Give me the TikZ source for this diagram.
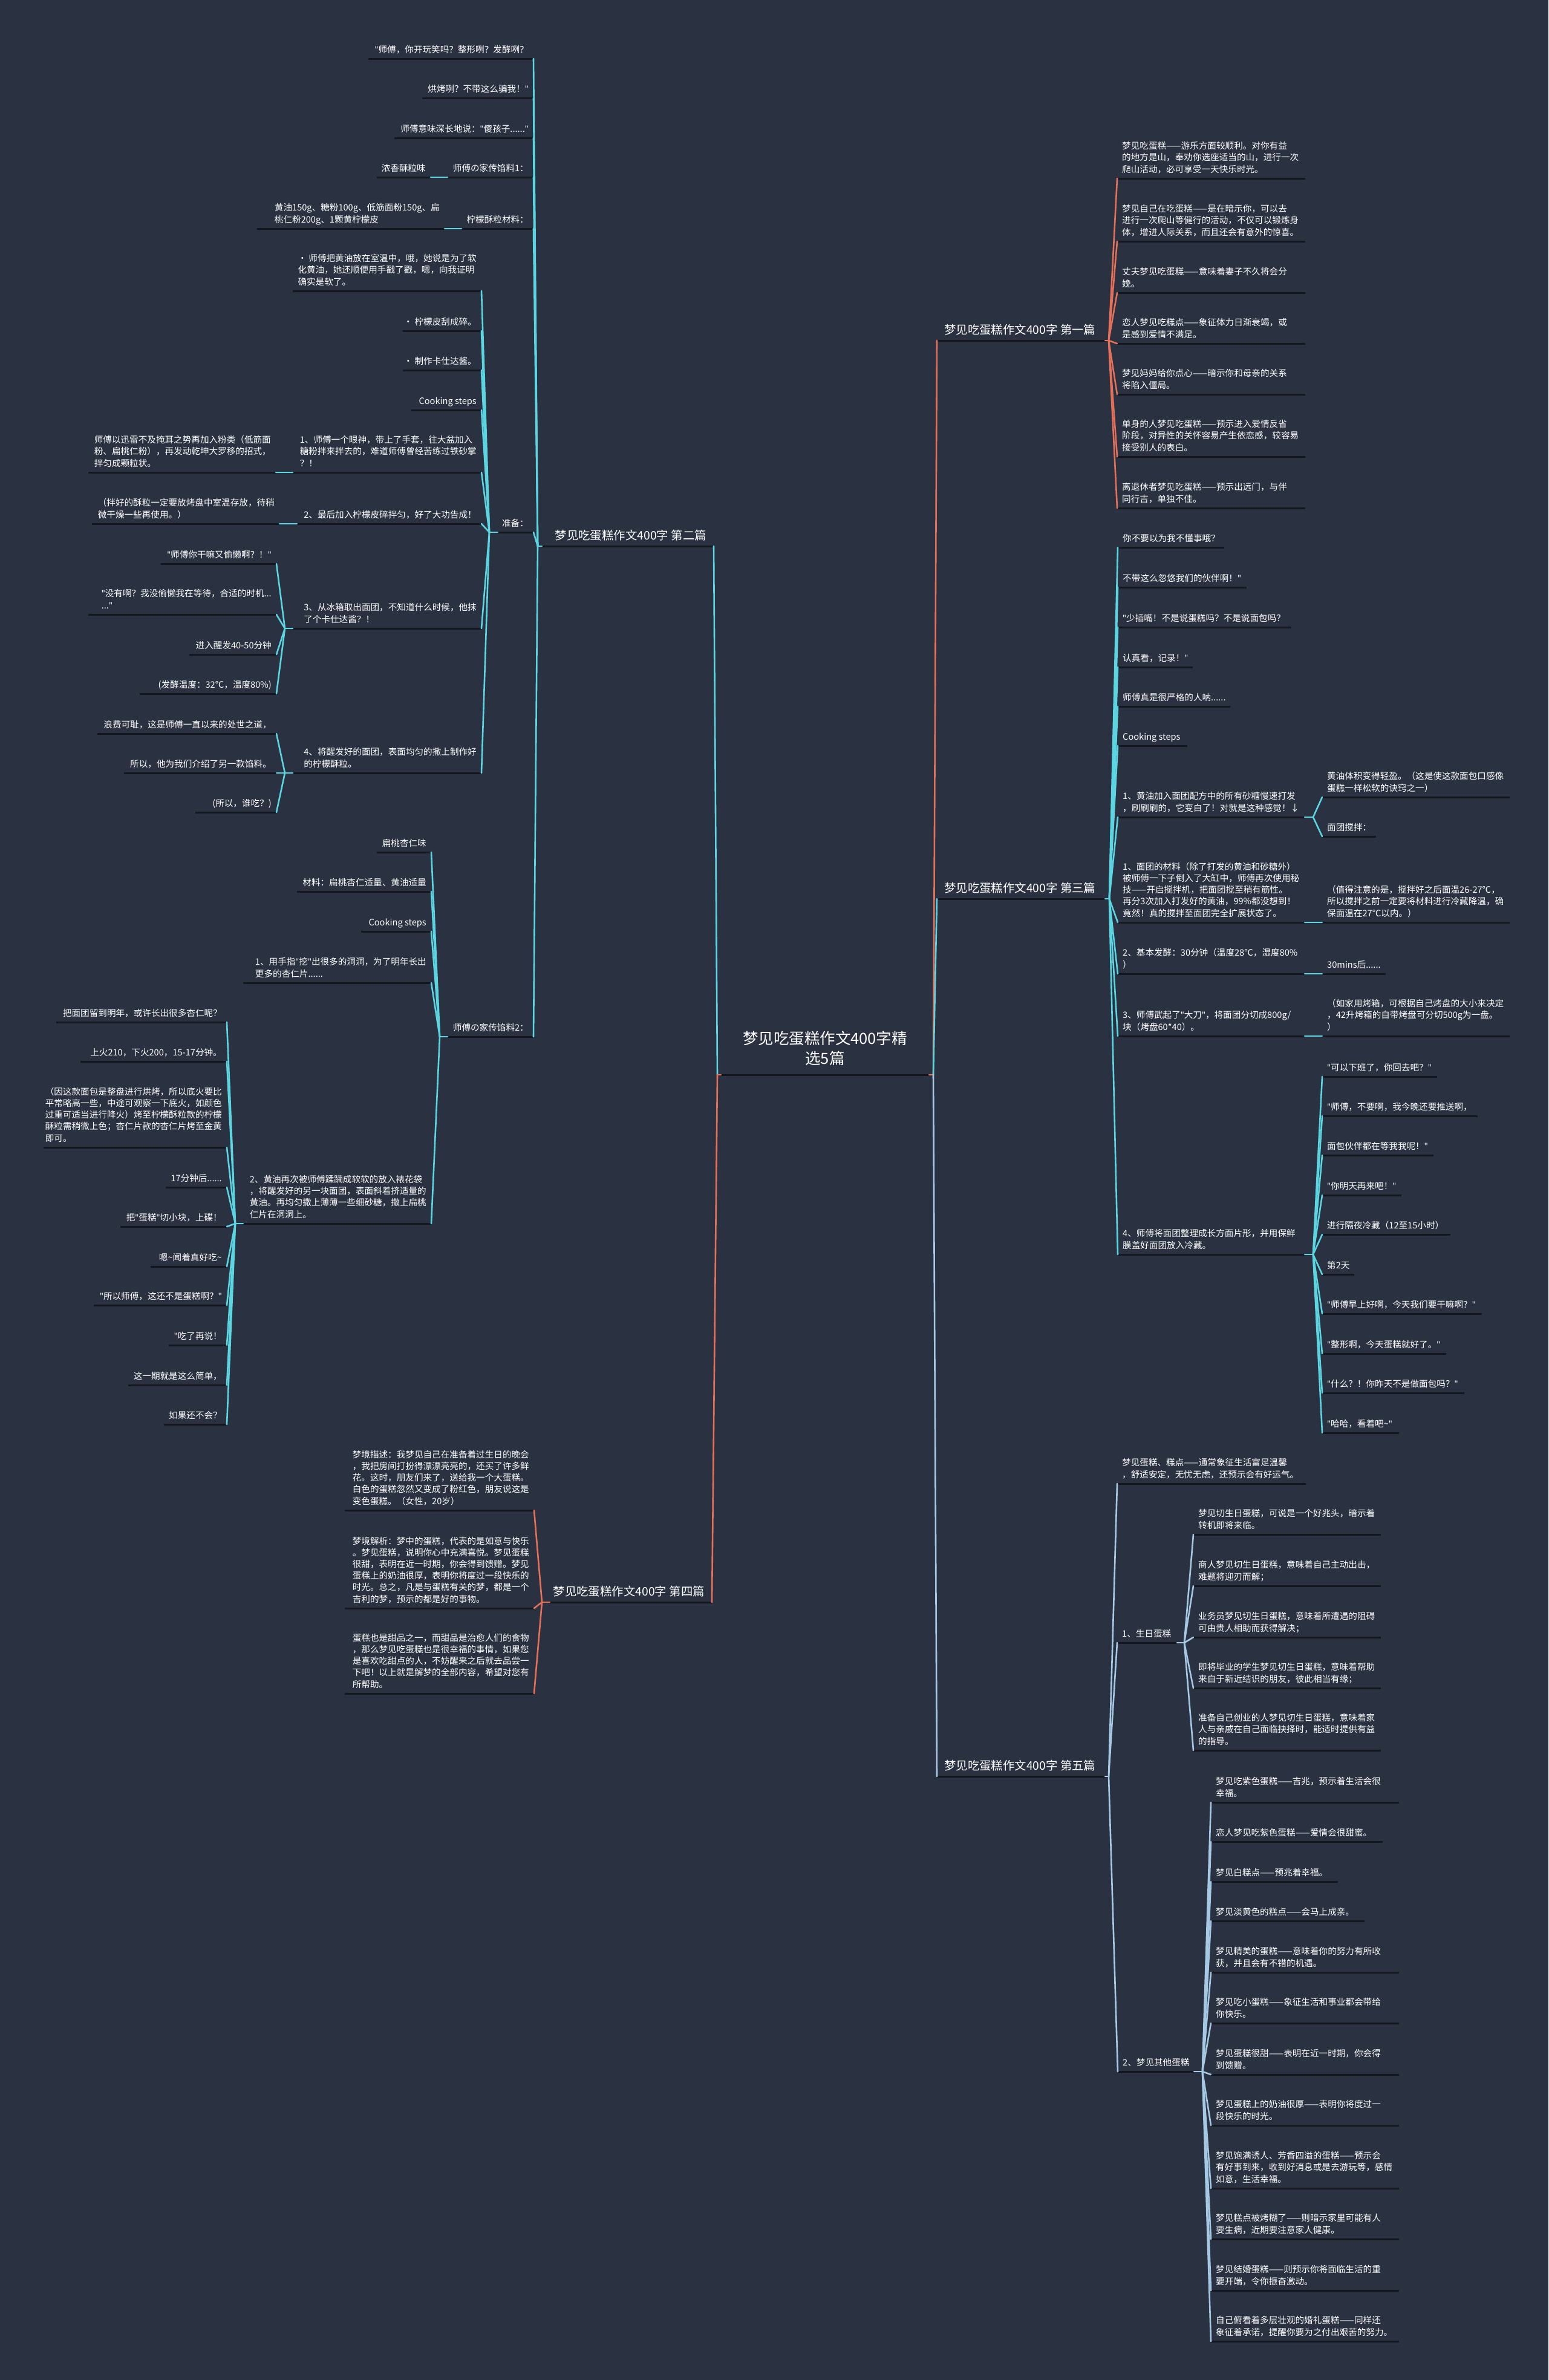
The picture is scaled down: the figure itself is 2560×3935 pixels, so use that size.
\documentclass[tikz,border=0pt]{standalone}
\usepackage{fontspec}
\setmainfont{Noto Sans CJK SC}
\newfontfamily\qfont{Noto Sans}
\newcommand\Q{{\qfont"}}
\definecolor{bgc}{HTML}{2A3242}
\definecolor{cyc}{HTML}{5CD5E3}
\definecolor{orc}{HTML}{E5705A}
\definecolor{blc}{HTML}{A5C9E5}
\definecolor{ulc}{HTML}{14171D}
\tikzset{
  lf/.style={inner sep=0pt, text=white, font=\fontsize{14.6}{19.2}\selectfont},
  brf/.style={inner sep=0pt, text=white, font=\fontsize{19.4}{24}\selectfont},
  rootf/.style={inner sep=0pt, text=white, font=\fontsize{25.5}{33}\selectfont},
  ul/.style={draw=ulc, line width=3pt},
  cyl/.style={draw=cyc, line width=2.6pt, line cap=round},
  orl/.style={draw=orc, line width=2.6pt, line cap=round},
  bll/.style={draw=blc, line width=2.6pt, line cap=round}
}
% left leaf: name, x1, x2, y(underline), text
\newcommand\Ln[5]{%
  \node[lf, anchor=base east] (#1) at (#3-8,#4-10) {\begin{tabular}[b]{@{}l@{}}#5\end{tabular}};
  \coordinate (#1-l) at (#2,#4);
  \coordinate (#1-r) at (#3,#4);
  \draw[ul] (#1-l) -- (#1-r);
}
% right leaf
\newcommand\Rn[5]{%
  \node[lf, anchor=base west] (#1) at (#2+8,#4-10) {\begin{tabular}[b]{@{}l@{}}#5\end{tabular}};
  \coordinate (#1-l) at (#2,#4);
  \coordinate (#1-r) at (#3,#4);
  \draw[ul] (#1-l) -- (#1-r);
}
% branch nodes
\newcommand\Bl[5]{%
  \node[brf, anchor=base east] (#1) at (#3-12,#4-11) {#5};
  \coordinate (#1-l) at (#2,#4);
  \coordinate (#1-r) at (#3,#4);
  \draw[ul] (#1-l) -- (#1-r);
}
\newcommand\Br[5]{%
  \node[brf, anchor=base west] (#1) at (#2+12,#4-11) {#5};
  \coordinate (#1-l) at (#2,#4);
  \coordinate (#1-r) at (#3,#4);
  \draw[ul] (#1-l) -- (#1-r);
}
\begin{document}
\begin{tikzpicture}[x=1pt,y=-1pt]
\fill[bgc] (0,0) rectangle (2560,3935);
\useasboundingbox (0,0) rectangle (2560,3935);

% ---------- root ----------
\node[rootf, anchor=base] (R) at (1364,1759) {\begin{tabular}[b]{@{}c@{}}梦见吃蛋糕作文400字精\\选5篇\end{tabular}};
\coordinate (R-l) at (1192,1777);
\coordinate (R-r) at (1536,1777);
\draw[ul] (R-l) -- (R-r);

% ---------- main branches ----------
\Bl{B2}{896}{1180}{903}{梦见吃蛋糕作文400字 第二篇}
\Bl{B4}{909}{1177}{2649}{梦见吃蛋糕作文400字 第四篇}
\Br{B1}{1549}{1827}{563}{梦见吃蛋糕作文400字 第一篇}
\Br{B3}{1549}{1827}{1486}{梦见吃蛋糕作文400字 第三篇}
\Br{B5}{1549}{1827}{2937}{梦见吃蛋糕作文400字 第五篇}

% ---------- 第二篇 ----------
\Ln{a1}{609}{882}{97}{\Q 师傅，你开玩笑吗？整形咧？发酵咧？}
\Ln{a2}{698}{882}{162}{烘烤咧？不带这么骗我！\Q}
\Ln{a3}{652}{882}{228}{师傅意味深长地说：\Q 傻孩子......\Q}
\Ln{a4}{740}{882}{293}{师傅の家传馅料1：}
\Ln{a4c}{623}{712}{293}{浓香酥粒味}
\Ln{a5}{763}{882}{378}{柠檬酥粒材料：}
\Ln{a5c}{425}{735}{378}{黄油150g、糖粉100g、低筋面粉150g、扁\\桃仁粉200g、1颗黄柠檬皮}
\Ln{a6}{823}{882}{880}{准备：}
\Ln{a7}{740}{882}{1714}{师傅の家传馅料2：}

\Ln{p1}{484}{796}{481}{• 师傅把黄油放在室温中，哦，她说是为了软\\化黄油，她还顺便用手戳了戳，嗯，向我证明\\确实是软了。}
\Ln{p2}{666}{796}{547}{• 柠檬皮刮成碎。}
\Ln{p3}{666}{796}{612}{• 制作卡仕达酱。}
\Ln{p4}{680}{796}{678}{Cooking steps}
\Ln{p5}{484}{796}{781}{1、师傅一个眼神，带上了手套，往大盆加入\\糖粉拌来拌去的，难道师傅曾经苦练过铁砂掌\\？！}
\Ln{p5c}{146}{456}{781}{师傅以迅雷不及掩耳之势再加入粉类（低筋面\\粉、扁桃仁粉），再发动乾坤大罗移的招式，\\拌匀成颗粒状。}
\Ln{p6}{491}{796}{866}{2、最后加入柠檬皮碎拌匀，好了大功告成！}
\Ln{p6c}{152}{462}{866}{（拌好的酥粒一定要放烤盘中室温存放，待稍\\微干燥一些再使用。）}
\Ln{p7}{484}{796}{1039}{3、从冰箱取出面团，不知道什么时候，他抹\\了个卡仕达酱？！}
\Ln{p7a}{266}{457}{932}{\Q 师傅你干嘛又偷懒啊？！\Q}
\Ln{p7b}{146}{457}{1016}{\Q 没有啊？我没偷懒我在等待，合适的时机...\\...\Q}
\Ln{p7c}{313}{457}{1082}{进入醒发40-50分钟}
\Ln{p7d}{231}{457}{1147}{(发酵温度：32℃，温度80\%)}
\Ln{p8}{484}{796}{1278}{4、将醒发好的面团，表面均匀的撒上制作好\\的柠檬酥粒。}
\Ln{p8a}{161}{457}{1213}{浪费可耻，这是师傅一直以来的处世之道，}
\Ln{p8b}{205}{457}{1278}{所以，他为我们介绍了另一款馅料。}
\Ln{p8c}{323}{457}{1343}{(所以，谁吃？)}

\Ln{q1}{623}{713}{1409}{扁桃杏仁味}
\Ln{q2}{491}{713}{1474}{材料：扁桃杏仁适量、黄油适量}
\Ln{q3}{597}{713}{1540}{Cooking steps}
\Ln{q4}{402}{713}{1625}{1、用手指\Q 挖\Q 出很多的洞洞，为了明年长出\\更多的杏仁片......}
\Ln{q5}{402}{713}{2023}{2、黄油再次被师傅蹂躏成软软的放入裱花袋\\，将醒发好的另一块面团，表面斜着挤适量的\\黄油。再均匀撒上薄薄一些细砂糖，撒上扁桃\\仁片在洞洞上。}

\Ln{r1}{93}{375}{1690}{把面团留到明年，或许长出很多杏仁呢？}
\Ln{r2}{133}{375}{1755}{上火210，下火200，15-17分钟。}
\Ln{r3}{72}{375}{1897}{（因这款面包是整盘进行烘烤，所以底火要比\\平常略高一些，中途可观察一下底火，如颜色\\过重可适当进行降火）烤至柠檬酥粒款的柠檬\\酥粒需稍微上色；杏仁片款的杏仁片烤至金黄\\即可。}
\Ln{r4}{274}{375}{1963}{17分钟后......}
\Ln{r5}{199}{375}{2028}{把\Q 蛋糕\Q 切小块，上碟！}
\Ln{r6}{249}{375}{2094}{嗯\textasciitilde 闻着真好吃\textasciitilde}
\Ln{r7}{155}{375}{2158}{\Q 所以师傅，这还不是蛋糕啊？\Q}
\Ln{r8}{279}{375}{2224}{\Q 吃了再说！}
\Ln{r9}{212}{375}{2290}{这一期就是这么简单，}
\Ln{r10}{271}{375}{2355}{如果还不会？}

% ---------- 第四篇 ----------
\Ln{d1}{570}{883}{2497}{梦境描述：我梦见自己在准备着过生日的晚会\\，我把房间打扮得漂漂亮亮的，还买了许多鲜\\花。这时，朋友们来了，送给我一个大蛋糕。\\白色的蛋糕忽然又变成了粉红色，朋友说这是\\变色蛋糕。（女性，20岁）}
\Ln{d2}{570}{883}{2659}{梦境解析：梦中的蛋糕，代表的是如意与快乐\\。梦见蛋糕，说明你心中充满喜悦。梦见蛋糕\\很甜，表明在近一时期，你会得到馈赠。梦见\\蛋糕上的奶油很厚，表明你将度过一段快乐的\\时光。总之，凡是与蛋糕有关的梦，都是一个\\吉利的梦，预示的都是好的事物。}
\Ln{d3}{570}{883}{2800}{蛋糕也是甜品之一，而甜品是治愈人们的食物\\，那么梦见吃蛋糕也是很幸福的事情，如果您\\是喜欢吃甜点的人，不妨醒来之后就去品尝一\\下吧！以上就是解梦的全部内容，希望对您有\\所帮助。}

% ---------- 第一篇 ----------
\Rn{e1}{1847}{2158}{295}{梦见吃蛋糕——游乐方面较顺利。对你有益\\的地方是山，奉劝你选座适当的山，进行一次\\爬山活动，必可享受一天快乐时光。}
\Rn{e2}{1847}{2158}{399}{梦见自己在吃蛋糕——是在暗示你，可以去\\进行一次爬山等健行的活动，不仅可以锻炼身\\体，增进人际关系，而且还会有意外的惊喜。}
\Rn{e3}{1847}{2158}{484}{丈夫梦见吃蛋糕——意味着妻子不久将会分\\娩。}
\Rn{e4}{1847}{2158}{568}{恋人梦见吃糕点——象征体力日渐衰竭，或\\是感到爱情不满足。}
\Rn{e5}{1847}{2158}{652}{梦见妈妈给你点心——暗示你和母亲的关系\\将陷入僵局。}
\Rn{e6}{1847}{2158}{755}{单身的人梦见吃蛋糕——预示进入爱情反省\\阶段，对异性的关怀容易产生依恋感，较容易\\接受别人的表白。}
\Rn{e7}{1847}{2158}{840}{离退休者梦见吃蛋糕——预示出远门，与伴\\同行吉，单独不佳。}

% ---------- 第三篇 ----------
\Rn{t1}{1848}{2024}{905}{你不要以为我不懂事哦？}
\Rn{t2}{1848}{2061}{971}{不带这么忽悠我们的伙伴啊！\Q}
\Rn{t3}{1848}{2135}{1037}{\Q 少插嘴！不是说蛋糕吗？不是说面包吗？}
\Rn{t4}{1848}{1972}{1103}{认真看，记录！\Q}
\Rn{t5}{1848}{2034}{1168}{师傅真是很严格的人呐......}
\Rn{t6}{1848}{1963}{1233}{Cooking steps}
\Rn{t7}{1848}{2157}{1351}{1、黄油加入面团配方中的所有砂糖慢速打发\\，刷刷刷的，它变白了！对就是这种感觉！↓}
\Rn{t7a}{2186}{2496}{1318}{黄油体积变得轻盈。（这是使这款面包口感像\\蛋糕一样松软的诀窍之一）}
\Rn{t7b}{2186}{2275}{1383}{面团搅拌：}
\Rn{t8}{1848}{2157}{1525}{1、面团的材料（除了打发的黄油和砂糖外）\\被师傅一下子倒入了大缸中，师傅再次使用秘\\技——开启搅拌机，把面团搅至稍有筋性。\\再分3次加入打发好的黄油，99\%都没想到！\\竟然！真的搅拌至面团完全扩展状态了。}
\Rn{t8a}{2186}{2496}{1525}{（值得注意的是，搅拌好之后面温26-27℃，\\所以搅拌之前一定要将材料进行冷藏降温，确\\保面温在27℃以内。）}
\Rn{t9}{1848}{2157}{1610}{2、基本发酵：30分钟（温度28℃，湿度80\%\\）}
\Rn{t9a}{2186}{2291}{1610}{30mins后......}
\Rn{t10}{1848}{2157}{1713}{3、师傅武起了\Q 大刀\Q ，将面团分切成800g/\\块（烤盘60*40）。}
\Rn{t10a}{2186}{2496}{1713}{（如家用烤箱，可根据自己烤盘的大小来决定\\，42升烤箱的自带烤盘可分切500g为一盘。\\）}
\Rn{t11}{1848}{2157}{2074}{4、师傅将面团整理成长方面片形，并用保鲜\\膜盖好面团放入冷藏。}
\Rn{u1}{2186}{2376}{1780}{\Q 可以下班了，你回去吧？\Q}
\Rn{u2}{2186}{2443}{1845}{\Q 师傅，不要啊，我今晚还要推送啊，}
\Rn{u3}{2186}{2370}{1910}{面包伙伴都在等我我呢！\Q}
\Rn{u4}{2186}{2317}{1976}{\Q 你明天再来吧！\Q}
\Rn{u5}{2186}{2398}{2041}{进行隔夜冷藏（12至15小时）}
\Rn{u6}{2186}{2239}{2107}{第2天}
\Rn{u7}{2186}{2450}{2172}{\Q 师傅早上好啊，今天我们要干嘛啊？\Q}
\Rn{u8}{2186}{2391}{2238}{\Q 整形啊，今天蛋糕就好了。\Q}
\Rn{u9}{2186}{2421}{2303}{\Q 什么？！你昨天不是做面包吗？\Q}
\Rn{u10}{2186}{2313}{2369}{\Q 哈哈，看着吧\textasciitilde\Q}

% ---------- 第五篇 ----------
\Rn{f1}{1847}{2159}{2453}{梦见蛋糕、糕点——通常象征生活富足温馨\\，舒适安定，无忧无虑，还预示会有好运气。}
\Rn{f2}{1847}{1946}{2716}{1、生日蛋糕}
\Rn{g1}{1973}{2283}{2537}{梦见切生日蛋糕，可说是一个好兆头，暗示着\\转机即将来临。}
\Rn{g2}{1973}{2283}{2622}{商人梦见切生日蛋糕，意味着自己主动出击，\\难题将迎刃而解；}
\Rn{g3}{1973}{2283}{2707}{业务员梦见切生日蛋糕，意味着所遭遇的阻碍\\可由贵人相助而获得解决；}
\Rn{g4}{1973}{2283}{2791}{即将毕业的学生梦见切生日蛋糕，意味着帮助\\来自于新近结识的朋友，彼此相当有缘；}
\Rn{g5}{1973}{2283}{2894}{准备自己创业的人梦见切生日蛋糕，意味着家\\人与亲戚在自己面临抉择时，能适时提供有益\\的指导。}
\Rn{f3}{1848}{1974}{3425}{2、梦见其他蛋糕}
\Rn{h1}{2002}{2313}{2980}{梦见吃紫色蛋糕——吉兆，预示着生活会很\\幸福。}
\Rn{h2}{2002}{2286}{3045}{恋人梦见吃紫色蛋糕——爱情会很甜蜜。}
\Rn{h3}{2002}{2212}{3111}{梦见白糕点——预兆着幸福。}
\Rn{h4}{2002}{2256}{3176}{梦见淡黄色的糕点——会马上成亲。}
\Rn{h5}{2002}{2313}{3261}{梦见精美的蛋糕——意味着你的努力有所收\\获，并且会有不错的机遇。}
\Rn{h6}{2002}{2313}{3345}{梦见吃小蛋糕——象征生活和事业都会带给\\你快乐。}
\Rn{h7}{2002}{2313}{3430}{梦见蛋糕很甜——表明在近一时期，你会得\\到馈赠。}
\Rn{h8}{2002}{2313}{3514}{梦见蛋糕上的奶油很厚——表明你将度过一\\段快乐的时光。}
\Rn{h9}{2002}{2313}{3618}{梦见饱满诱人、芳香四溢的蛋糕——预示会\\有好事到来，收到好消息或是去游玩等，感情\\如意，生活幸福。}
\Rn{h10}{2002}{2313}{3702}{梦见糕点被烤糊了——则暗示家里可能有人\\要生病，近期要注意家人健康。}
\Rn{h11}{2002}{2313}{3787}{梦见结婚蛋糕——则预示你将面临生活的重\\要开端，令你振奋激动。}
\Rn{h12}{2002}{2313}{3871}{自己俯看着多层壮观的婚礼蛋糕——同样还\\象征着承诺，提醒你要为之付出艰苦的努力。}

% ---------- connectors ----------
% root
\draw[orl] (R-l) -- ++(-6,0) coordinate (RFl);
\draw[cyl] (RFl) -- (B2-r);
\draw[orl] (RFl) -- (B4-r);
\draw[orl] (R-r) -- ++(7,0) coordinate (RFr);
\draw[orl] (RFr) -- (B1-l);
\draw[cyl] (RFr) -- (B3-l);
\draw[bll] (RFr) -- (B5-l);

% 第二篇
\draw[cyl] (B2-l) -- ++(-7,0) coordinate (F2);
\foreach \k in {a1,a2,a3,a4,a5,a6,a7} \draw[cyl] (F2) -- (\k-r);
\draw[cyl] (a4-l) -- (a4c-r);
\draw[cyl] (a5-l) -- (a5c-r);
\draw[cyl] (a6-l) -- ++(-14,0) coordinate (F6);
\foreach \k in {p1,p2,p3,p4,p5,p6,p7,p8} \draw[cyl] (F6) -- (\k-r);
\draw[cyl] (p5-l) -- (p5c-r);
\draw[cyl] (p6-l) -- (p6c-r);
\draw[cyl] (p7-l) -- ++(-13,0) coordinate (F7);
\foreach \k in {p7a,p7b,p7c,p7d} \draw[cyl] (F7) -- (\k-r);
\draw[cyl] (p8-l) -- ++(-13,0) coordinate (F8);
\foreach \k in {p8a,p8b,p8c} \draw[cyl] (F8) -- (\k-r);
\draw[cyl] (a7-l) -- ++(-13,0) coordinate (FA7);
\foreach \k in {q1,q2,q3,q4,q5} \draw[cyl] (FA7) -- (\k-r);
\draw[cyl] (q5-l) -- ++(-13,0) coordinate (FQ5);
\foreach \k in {r1,r2,r3,r4,r5,r6,r7,r8,r9,r10} \draw[cyl] (FQ5) -- (\k-r);

% 第四篇
\draw[orl] (B4-l) -- ++(-13,0) coordinate (F4);
\foreach \k in {d1,d2,d3} \draw[orl] (F4) -- (\k-r);

% 第一篇
\draw[orl] (B1-r) -- ++(6,0) coordinate (FB1);
\foreach \k in {e1,e2,e3,e4,e5,e6,e7} \draw[orl] (FB1) -- (\k-l);

% 第三篇
\draw[cyl] (B3-r) -- ++(7,0) coordinate (FB3);
\foreach \k in {t1,t2,t3,t4,t5,t6,t7,t8,t9,t10,t11} \draw[cyl] (FB3) -- (\k-l);
\draw[cyl] (t7-r) -- ++(14,0) coordinate (FT7);
\foreach \k in {t7a,t7b} \draw[cyl] (FT7) -- (\k-l);
\draw[cyl] (t8-r) -- (t8a-l);
\draw[cyl] (t9-r) -- (t9a-l);
\draw[cyl] (t10-r) -- (t10a-l);
\draw[cyl] (t11-r) -- ++(14,0) coordinate (FT11);
\foreach \k in {u1,u2,u3,u4,u5,u6,u7,u8,u9,u10} \draw[cyl] (FT11) -- (\k-l);

% 第五篇
\draw[bll] (B5-r) -- ++(6,0) coordinate (FB5);
\foreach \k in {f1,f2,f3} \draw[bll] (FB5) -- (\k-l);
\draw[bll] (f2-r) -- ++(12,0) coordinate (FF2);
\foreach \k in {g1,g2,g3,g4,g5} \draw[bll] (FF2) -- (\k-l);
\draw[bll] (f3-r) -- ++(14,0) coordinate (FF3);
\foreach \k in {h1,h2,h3,h4,h5,h6,h7,h8,h9,h10,h11,h12} \draw[bll] (FF3) -- (\k-l);
\end{tikzpicture}
\end{document}
